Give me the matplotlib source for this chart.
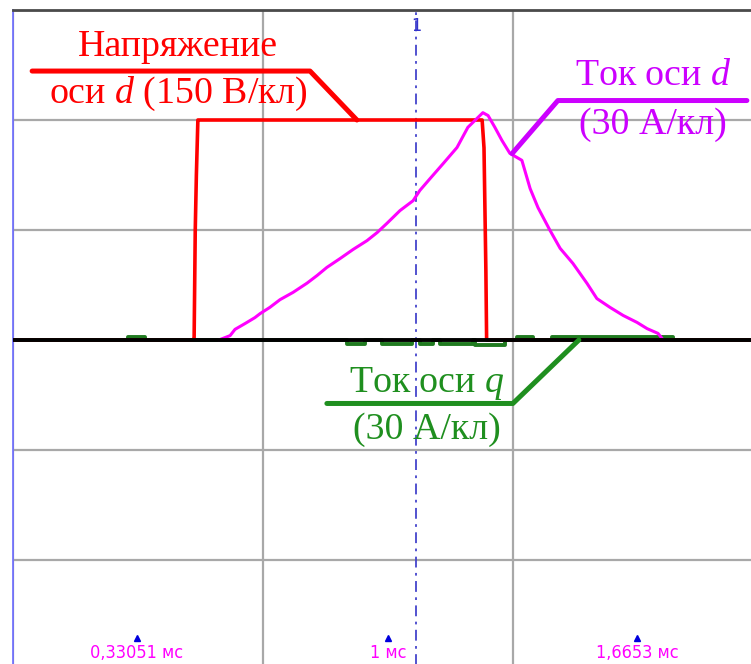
import matplotlib
matplotlib.use("Agg")
from matplotlib import pyplot as plt

plt.rcParams['mathtext.fontset'] = 'custom'
plt.rcParams['mathtext.rm'] = 'Liberation Serif'
plt.rcParams['mathtext.it'] = 'Liberation Serif:italic'

# scales: volts and amps per division
U_DIV = 150.0
I_DIV = 30.0

# d-axis voltage, time in ms, value in V
u_t = [0.0, 0.480, 0.483, 0.486, 0.489, 0.493, 0.497, 1.251, 1.256, 1.261, 1.263, 2.0]
u_v = [0, 0, 3, 150, 225, 300, 300, 300, 262, 95, 0, 0]

# d-axis current, time in ms, value in A
id_t = [0.549, 0.579, 0.592, 0.619, 0.645, 0.659, 0.685, 0.712, 0.747, 0.784,
        0.811, 0.837, 0.872, 0.907, 0.944, 0.971, 0.997, 1.032, 1.067, 1.085,
        1.112, 1.147, 1.184, 1.213, 1.240, 1.253, 1.267, 1.285, 1.304, 1.325,
        1.357, 1.379, 1.400, 1.432, 1.459, 1.493, 1.531, 1.557, 1.592, 1.627,
        1.664, 1.691, 1.720, 1.731]
id_a = [0.0, 1.2, 2.9, 4.5, 6.1, 7.2, 8.9, 11.0, 13.0, 15.5,
        17.6, 19.8, 22.2, 24.7, 27.1, 29.3, 31.8, 35.3, 38.0, 40.8,
        44.0, 48.1, 52.5, 58.0, 60.7, 62.0, 61.2, 58.0, 54.4, 50.9,
        49.0, 41.3, 36.1, 29.9, 25.0, 20.9, 15.4, 11.3, 8.9, 6.7,
        4.8, 3.1, 1.8, 0.4]

# q-axis current, time in ms, value in A (step-wise)
iq_t = [0.0, 0.307, 0.352, 0.891, 0.939, 0.984, 1.064, 1.085, 1.120, 1.139,
        1.227, 1.232, 1.312, 1.344, 1.387, 1.437, 1.760, 2.0]
iq_a = [0.0, 0.9, 0.0, -1.0, 0.0, -1.0, 0.0, -1.0, 0.0, -1.0,
        0.0, -1.3, 0.0, 0.9, 0.0, 0.9, 0.0, 0.0]

cursor_t = 1.075
marks_t = [0.33051, 1.0, 1.6653]
marks_txt = ["0,33051 мс", "1 мс", "1,6653 мс"]

fig = plt.figure(figsize=(7.51, 6.64), dpi=100)
ax = fig.add_axes([13 / 751, -6 / 664, 750 / 751, 660 / 664])
ax.set_xlim(0, 2)
ax.set_ylim(-3, 3)

ax.set_xticks([0, 2 / 3, 4 / 3, 2])
ax.set_yticks([-3, -2, -1, 0, 1, 2, 3])
ax.tick_params(length=0, labelbottom=False, labelleft=False)
ax.grid(True, color="#a8a8a8", lw=1.6)
ax.set_axisbelow(True)
for s in ["right", "bottom"]:
    ax.spines[s].set_visible(False)
ax.spines['top'].set_color("#4a4a4a")
ax.spines['top'].set_linewidth(2)
ax.spines['left'].set_color("#6a6aff")
ax.spines['left'].set_linewidth(1.2)

# traces
ax.plot(u_t, [v / U_DIV for v in u_v], color="#ff0000", lw=2.6, zorder=3)
ax.plot(id_t, [i / I_DIV for i in id_a], color="#ff00ff", lw=2.2, zorder=3)
ax.plot(iq_t, [i / I_DIV for i in iq_a], color="#1f7a1f", lw=2.8,
        drawstyle="steps-post", zorder=2)
ax.axhline(0, color="black", lw=2.8, zorder=4)

# cursor
ax.axvline(cursor_t, color="#4444cc", lw=1.3, ls=(0, (6, 3, 1.5, 3)), zorder=2)
ax.text(cursor_t, 2.81, "1", color="#3333cc", ha="center", va="baseline",
        fontsize=13, fontstretch="condensed", family="DejaVu Sans")

# time markers at the bottom
for t, s in zip(marks_t, marks_txt):
    ax.plot(t, -2.705, marker="^", color="#0000dd", ms=4.5, clip_on=False)
    ax.text(t, -2.89, s, color="#ff00ff", ha="center", va="baseline",
            fontsize=13, fontstretch="condensed", family="DejaVu Sans")

serif = dict(family="Liberation Serif", fontsize=27.3, ha="center", va="baseline")

# voltage callout
ax.plot([0.051, 0.792, 0.917], [2.445, 2.445, 2.0], color="#ff0000", lw=3.6,
        clip_on=False, solid_capstyle="round", zorder=5)
ax.text(0.44, 2.586, "Напряжение", color="#ff0000", **serif)
ax.text(0.44, 2.159, "оси $d$ (150 В/кл)", color="#ff0000", **serif)

# d current callout
ax.plot([1.331, 1.453, 1.957], [1.695, 2.177, 2.177], color="#cc00ff", lw=3.6,
        clip_on=False, solid_capstyle="round", zorder=5)
ax.text(1.707, 2.314, "Ток оси $d$", color="#cc00ff", **serif)
ax.text(1.707, 1.877, "(30 А/кл)", color="#cc00ff", **serif)

# q current callout
ax.plot([1.509, 1.333, 0.837], [0.0, -0.577, -0.577], color="#1f8f1f", lw=3.6,
        clip_on=False, solid_capstyle="round", zorder=5)
ax.text(1.104, -0.477, "Ток оси $q$", color="#1f8f1f", **serif)
ax.text(1.104, -0.895, "(30 А/кл)", color="#1f8f1f", **serif)

fig.savefig("out.png", dpi=100)
